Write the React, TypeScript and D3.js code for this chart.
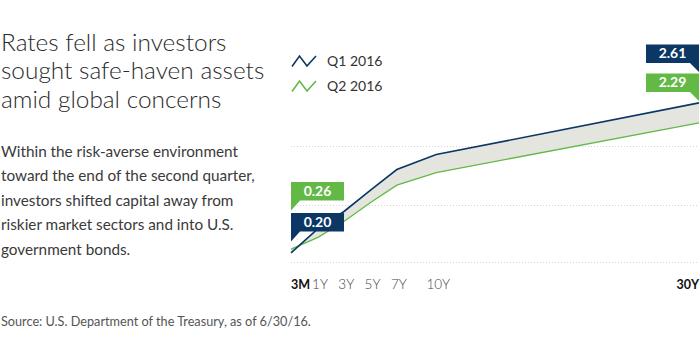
import React, { useRef, useEffect } from 'react';
import * as d3 from 'd3';

// treasury yield curve, end of Q1 vs end of Q2 2016
const maturities = ['3M', '1Y', '3Y', '5Y', '7Y', '10Y', '30Y'];
const maturityYears = [0.25, 1, 3, 5, 7, 10, 30];
const q1Yields = [0.2, 0.59, 0.87, 1.21, 1.54, 1.78, 2.61];
const q2Yields = [0.26, 0.45, 0.71, 1.01, 1.29, 1.49, 2.29];
const gridValues = [0.05, 0.97, 1.92];

const seriesNames = ['Q1 2016', 'Q2 2016'];
const seriesColors = ['#0c3765', '#62b946'];

const titleLines = ['Rates fell as investors', 'sought safe-haven assets', 'amid global concerns'];
const bodyLines = [
  'Within the risk-averse environment',
  'toward the end of the second quarter,',
  'investors shifted capital away from',
  'riskier market sectors and into U.S.',
  'government bonds.',
];
const sourceText = 'Source: U.S. Department of the Treasury, as of 6/30/16.';

const FONT = 'Lato, "Open Sans", sans-serif';

const App: React.FC = () => {
  const ref = useRef<SVGSVGElement | null>(null);
  const width = 700;
  const height = 359;

  useEffect(() => {
    if (!ref.current) return;
    const svg = d3.select(ref.current);
    svg.selectAll('*').remove();

    const x = d3.scaleLinear().domain([0.25, 1, 30]).range([291, 318, 699]);
    const y = d3.scaleLinear().domain([0, 2.61]).range([265.4, 102.9]);

    // text block on the left
    const title = svg.append('text')
      .attr('font-family', FONT)
      .attr('font-weight', 300)
      .attr('font-size', 24.4)
      .attr('fill', '#2a2a2a');
    titleLines.forEach((t, i) => {
      title.append('tspan').attr('x', 1).attr('y', 51 + i * 28.3).text(t);
    });

    const body = svg.append('text')
      .attr('font-family', FONT)
      .attr('font-size', 15.3)
      .attr('fill', '#3a3a3a');
    bodyLines.forEach((t, i) => {
      body.append('tspan').attr('x', 1).attr('y', 157 + i * 24.4).text(t);
    });

    svg.append('text')
      .attr('x', 1)
      .attr('y', 326)
      .attr('font-family', FONT)
      .attr('font-size', 12.7)
      .attr('fill', '#555')
      .text(sourceText);

    // gridlines
    svg.append('g')
      .selectAll('line')
      .data(gridValues)
      .join('line')
      .attr('x1', x(0.25))
      .attr('x2', x(30))
      .attr('y1', d => Math.round(y(d)) + 0.5)
      .attr('y2', d => Math.round(y(d)) + 0.5)
      .attr('stroke', '#d4d4d4')
      .attr('stroke-dasharray', '1,2');

    const rows = maturityYears.map((yr, i) => ({ yr, q1: q1Yields[i], q2: q2Yields[i] }));

    const area = d3.area<typeof rows[0]>()
      .x(d => x(d.yr))
      .y0(d => y(d.q2))
      .y1(d => y(d.q1));

    svg.append('path')
      .datum(rows)
      .attr('d', area)
      .attr('fill', '#e5e5e0');

    const line = d3.line<[number, number]>()
      .x(d => x(d[0]))
      .y(d => y(d[1]));

    [q2Yields, q1Yields].forEach((vals, k) => {
      const idx = k === 0 ? 1 : 0;
      svg.append('path')
        .datum(maturityYears.map((yr, i) => [yr, vals[i]] as [number, number]))
        .attr('d', line)
        .attr('fill', 'none')
        .attr('stroke', seriesColors[idx])
        .attr('stroke-width', idx === 0 ? 1.6 : 1.3);
    });

    // x axis labels, ends in bold
    const isEnd = (i: number) => i === 0 || i === maturities.length - 1;
    svg.append('g')
      .selectAll('text')
      .data(maturities)
      .join('text')
      .attr('x', (d, i) => x(maturityYears[i]) + (isEnd(i) ? 0 : 2))
      .attr('y', 289)
      .attr('text-anchor', (d, i) => (i === 0 ? 'start' : i === maturities.length - 1 ? 'end' : 'middle'))
      .attr('font-family', FONT)
      .attr('font-size', (d, i) => (isEnd(i) ? 12.5 : 13.5))
      .attr('font-weight', (d, i) => (isEnd(i) ? 700 : 300))
      .attr('fill', (d, i) => (isEnd(i) ? '#111' : '#444'))
      .text(d => d);

    // value callouts
    const boxW = 53;
    const boxH = 18.5;
    const callout = (x0: number, bottom: number, color: string, label: string, side: 'left' | 'right') => {
      const top = bottom - boxH;
      const x1 = x0 + boxW;
      const p = side === 'left'
        ? `M${x0},${top}H${x1}V${bottom}H${x0 + 9}L${x0},${bottom + 10}Z`
        : `M${x0},${top}H${x1}V${bottom + 9}L${x1 - 9},${bottom}H${x0}Z`;
      svg.append('path').attr('d', p).attr('fill', color);
      svg.append('text')
        .attr('x', x0 + boxW / 2)
        .attr('y', bottom - 4.5)
        .attr('text-anchor', 'middle')
        .attr('font-family', FONT)
        .attr('font-weight', 700)
        .attr('font-size', 14)
        .attr('fill', '#fff')
        .text(label);
    };

    const last = maturityYears.length - 1;
    const leftBottom = y(q1Yields[0]) - 21.5;
    callout(x(0.25), leftBottom, seriesColors[0], q1Yields[0].toFixed(2), 'left');
    callout(x(0.25), leftBottom - 31, seriesColors[1], q2Yields[0].toFixed(2), 'left');
    const rightBottom = y(q1Yields[last]) - 40;
    callout(x(30) - boxW, rightBottom, seriesColors[0], q1Yields[last].toFixed(2), 'right');
    callout(x(30) - boxW, rightBottom + 29, seriesColors[1], q2Yields[last].toFixed(2), 'right');

    // legend
    seriesNames.forEach((name, i) => {
      const ly = 61 + i * 25;
      const icon = d3.line()([[292, ly + 5.5], [299.5, ly - 5], [307, ly + 5], [316, ly - 5]]);
      svg.append('path')
        .attr('d', icon)
        .attr('fill', 'none')
        .attr('stroke', seriesColors[i])
        .attr('stroke-width', 1.6);
      svg.append('text')
        .attr('x', 327)
        .attr('y', ly + 5)
        .attr('font-family', FONT)
        .attr('font-size', 14)
        .attr('fill', '#333')
        .text(name);
    });
  }, []);

  return (
    <svg
      ref={ref}
      width={width}
      height={height}
      style={{ position: 'absolute', left: 0, top: 0, background: '#fff' }}
    />
  );
};

export default App;
